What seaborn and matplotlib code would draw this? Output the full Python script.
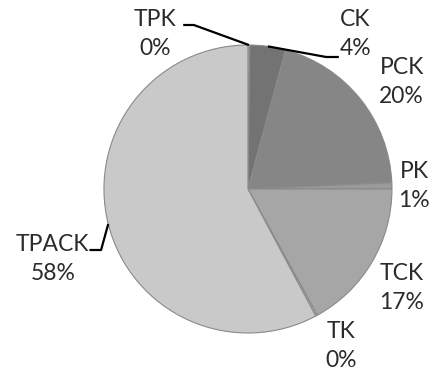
import numpy as np
import matplotlib
matplotlib.use("Agg")
import matplotlib.pyplot as plt
import seaborn as sns

# ---- data ----
categories = ["TPK", "CK", "PCK", "PK", "TCK", "TK", "TPACK"]
shares = [0.2, 4.0, 20.1, 0.7, 17.0, 0.2, 57.8]
colors = ["#bdbdbd", "#737373", "#868686", "#9a9a9a", "#a6a6a6", "#b5b5b5", "#c9c9c9"]

# ---- layout (pixel positions of label blocks and leader elbows) ----
W, H = 436, 374
CX, CY = 249, 189          # pie centre in px
RX, RY = 149, 144          # pie radii in px
label_px = {
    "TPK": (153, 34), "CK": (360, 34), "PCK": (408, 82), "PK": (421, 186),
    "TCK": (408, 288), "TK": (345, 346), "TPACK": (47, 259),
}
leaders = {  # elbow points (px): text end, elbow
    "TPK": [(182, 25), (193, 25)],
    "CK": [(343, 57), (330, 57)],
    "TPACK": [(85, 250), (97, 250)],
}

sns.set_theme(style="white")
plt.rcParams["font.family"] = ["Lato", "DejaVu Sans"]

fig = plt.figure(figsize=(W / 100, H / 100), dpi=100)
ax = fig.add_axes([0, 0, 1, 1])
ax.set_aspect("auto")

wedges, _ = ax.pie(shares, colors=colors, startangle=90, counterclock=False,
                   wedgeprops=dict(edgecolor="#8a8a8a", linewidth=0.8))

ax.set_xlim(-CX / RX, (W - CX) / RX)
ax.set_ylim(-(H - CY) / RY, CY / RY)
ax.axis("off")


def px2d(p):
    return ((p[0] - CX) / RX, (CY - p[1]) / RY)


for w, name, v in zip(wedges, categories, shares):
    lx, ly = px2d(label_px[name])
    ax.text(lx, ly, f"{name}\n{round(v):d}%", ha="center", va="center",
            fontsize=16.5, color="#2b2b2b", linespacing=1.45)
    if name in leaders:
        mid = np.deg2rad((w.theta1 + w.theta2) / 2)
        rim = (np.cos(mid), np.sin(mid))
        pts = [px2d(p) for p in leaders[name]] + [rim]
        xs, ys = zip(*pts)
        ax.plot(xs, ys, color="black", linewidth=1.6, solid_capstyle="butt")

fig.savefig("out.png", dpi=100)
